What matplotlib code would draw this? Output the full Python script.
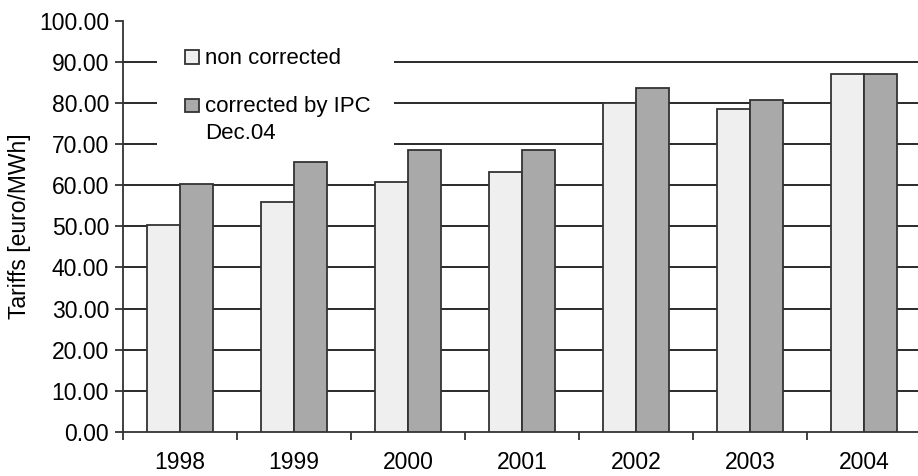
import matplotlib
matplotlib.use("Agg")
import matplotlib.pyplot as plt
from matplotlib.patches import Rectangle
import numpy as np

years = ["1998", "1999", "2000", "2001", "2002", "2003", "2004"]
non_corrected = [50.3, 56.0, 60.7, 63.2, 80.0, 78.6, 87.1]
corrected_ipc = [60.3, 65.6, 68.5, 68.5, 83.6, 80.7, 87.1]
y_ticks = [0, 10, 20, 30, 40, 50, 60, 70, 80, 90, 100]
legend_labels = ["non corrected", "corrected by IPC\nDec.04"]

plt.rcParams['font.family'] = ['Liberation Sans', 'DejaVu Sans']

W, H = 918, 476
fig = plt.figure(figsize=(W/100, H/100), dpi=100)
ax = fig.add_axes([123/W, 1 - 432/H, 798/W, 411.5/H])

light = '#efefef'
dark = '#a9a9a9'
edge = '#333333'
fs = 16.5

x = np.arange(len(years))
w = 0.29
ax.bar(x - w/2, non_corrected, width=w, color=light, edgecolor=edge, linewidth=1.3, zorder=3)
ax.bar(x + w/2, corrected_ipc, width=w, color=dark, edgecolor=edge, linewidth=1.3, zorder=3)

ax.set_xlim(-0.5, len(years) - 0.5)
ax.set_ylim(0, 100)
ax.set_autoscale_on(False)
ax.set_yticks(y_ticks)
ax.set_yticklabels([f"{v:.2f}" for v in y_ticks], fontsize=fs)
ax.set_xticks(x)
ax.set_xticklabels(years, fontsize=fs)
ax.set_xticks(np.arange(-0.5, len(years), 1.0), minor=True)
ax.tick_params(axis='x', which='major', length=0, pad=14)
ax.tick_params(axis='x', which='minor', length=6, width=1.3, color=edge, direction='out')
ax.tick_params(axis='y', length=6, width=1.3, color=edge, direction='out', pad=4)

for yv in y_ticks[1:-1]:
    ax.axhline(yv, color='#2a2a2a', linewidth=1.4, zorder=1)

for s in ['top', 'right']:
    ax.spines[s].set_visible(False)
for s in ['left', 'bottom']:
    ax.spines[s].set_color(edge)
    ax.spines[s].set_linewidth(1.3)

ax.set_ylabel("Tariffs [euro/MWh]", fontsize=fs, labelpad=6)

# legend drawn in figure pixel coordinates
def fx(px):
    return px / W

def fy(py):
    return 1 - py / H

ax.add_patch(Rectangle((fx(157), fy(154)), (394 - 157)/W, (154 - 40)/H,
                       transform=fig.transFigure, facecolor='white',
                       edgecolor='none', zorder=2, clip_on=False))

sq_tops = [50, 98.5]
baselines = [63.5, 111.7]
line_step = 27.7
for lab, col, top, base in zip(legend_labels, [light, dark], sq_tops, baselines):
    ax.add_patch(Rectangle((fx(185), fy(top + 13.5)), 13.5/W, 13.5/H,
                           transform=fig.transFigure, facecolor=col,
                           edgecolor=edge, linewidth=1.3, zorder=4, clip_on=False))
    for i, line in enumerate(lab.split("\n")):
        ax.text(fx(205), fy(base + i*line_step), line, transform=fig.transFigure,
                fontsize=16, va='baseline', ha='left', zorder=4)

fig.savefig("out.png", dpi=100)
